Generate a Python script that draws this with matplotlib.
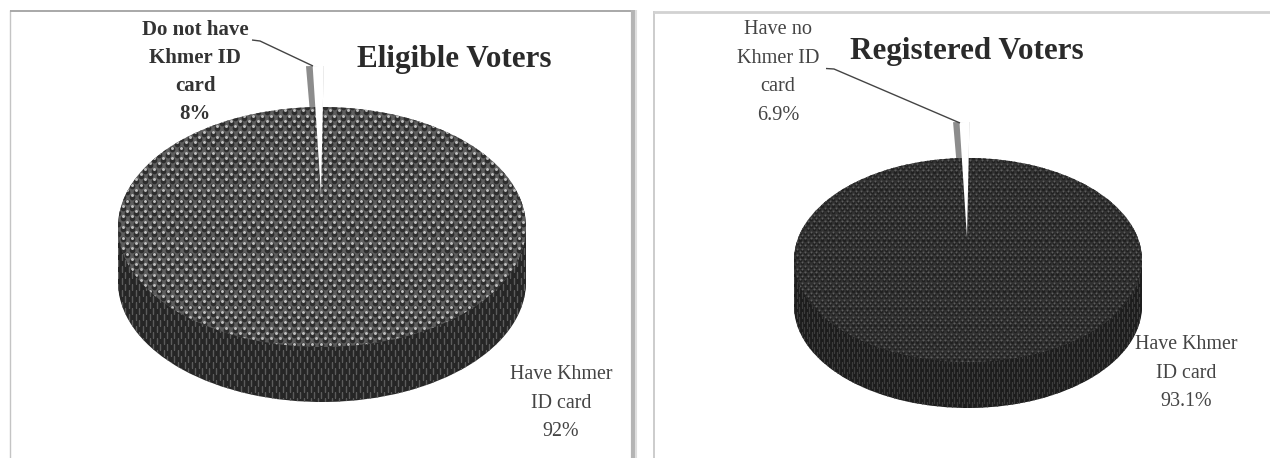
import numpy as np
import matplotlib
matplotlib.use("Agg")
import matplotlib.pyplot as plt
from matplotlib.lines import Line2D
from matplotlib.path import Path
from matplotlib.patches import PathPatch

W, H = 1270, 458

# slice shares as they are drawn in the picture (the sliver is far thinner than its label says)
eligible_shares = [0.8, 99.2]
registered_shares = [0.8, 99.2]

eligible_title = "Eligible Voters"
registered_title = "Registered Voters"
eligible_labels = ["Do not have\nKhmer ID\ncard\n8%", "Have Khmer\nID card\n92%"]
registered_labels = ["Have no\nKhmer ID\ncard\n6.9%", "Have Khmer\nID card\n93.1%"]


def grid_dots(x0, x1, y0, y1, dx, dy):
    # staggered lattice, pixels
    xs = []
    ys = []
    for i, y in enumerate(np.arange(y0, y1, dy)):
        row = np.arange(x0 + (i % 2) * dx / 2, x1, dx)
        xs.extend(row)
        ys.extend([y] * len(row))
    return np.array(xs), np.array(ys)


def draw_pie(fig, shares, cx, cy, rx, ry, depth, tip_y, top_y, face, wall, dots):
    ax = fig.add_axes([0, 0, 1, 1], facecolor="none")

    def to_x(px):
        return (px - cx) / rx

    def to_y(py):
        return (cy - py) / ry

    # side wall: the same pie stacked downwards
    for d in np.arange(depth, 0, -2.0):
        ax.pie(shares, center=(0, -d / ry), radius=1, startangle=90, colors=[wall, wall])

    theta = np.linspace(np.pi, 2 * np.pi, 200)
    wall_x = np.concatenate([np.cos(theta), np.cos(theta[::-1])])
    wall_y = np.concatenate([np.sin(theta) - depth / ry, np.sin(theta[::-1])])
    wall_path = Path(np.column_stack([wall_x, wall_y]))

    wx, wy = grid_dots(cx - rx, cx + rx, cy, cy + ry + depth, dots["wall_dx"], dots["wall_dy"])
    wall_marks = ax.scatter(to_x(wx), to_y(wy), s=dots["wall_s"], marker="|", c=dots["wall_color"],
                            linewidths=dots["wall_lw"], zorder=3)
    wall_marks.set_clip_path(PathPatch(wall_path, transform=ax.transData))

    # top face
    wedges, _ = ax.pie(shares, radius=1, startangle=90, colors=[face, face],
                       wedgeprops={"zorder": 4, "linewidth": 0})
    disk = PathPatch(Path(np.column_stack([np.cos(np.linspace(0, 2 * np.pi, 300)),
                                           np.sin(np.linspace(0, 2 * np.pi, 300))])),
                     transform=ax.transData)

    fx, fy = grid_dots(cx - rx, cx + rx, cy - ry, cy + ry, dots["dx"], dots["dy"])
    dark = ax.scatter(to_x(fx), to_y(fy), s=dots["dark_s"], c=dots["dark"], linewidths=0, zorder=5)
    dark.set_clip_path(disk)
    light = ax.scatter(to_x(fx + dots["dx"] / 2), to_y(fy + dots["dy"] * 0.66), s=dots["light_s"],
                       c=dots["light"], linewidths=0, zorder=6)
    light.set_clip_path(disk)

    # thin pulled out slice: grey inner side, paler top part, white face
    reach = (tip_y - top_y) / ry
    ax.pie(shares, center=(to_x(cx - 1), to_y(tip_y)), radius=reach, startangle=89.3,
           colors=["#b2b2b2", "none"], wedgeprops={"zorder": 2, "linewidth": 0})
    ax.pie(shares, center=(to_x(cx - 5), to_y(tip_y)), radius=reach, startangle=90,
           colors=["#8c8c8c", "none"], wedgeprops={"zorder": 2.5, "linewidth": 0})
    white, _ = ax.pie(shares, center=(to_x(cx - 1), to_y(tip_y)), radius=reach, startangle=89.3,
                      colors=["white", "none"], wedgeprops={"zorder": 7, "linewidth": 0})
    white[0].set_clip_path(disk)

    ax.set_aspect("auto")
    ax.set_xlim(to_x(0), to_x(W))
    ax.set_ylim(to_y(H), to_y(0))
    ax.set_axis_off()
    return ax


def px_line(fig, xs, ys, color, lw):
    fig.add_artist(Line2D([x / W for x in xs], [1 - y / H for y in ys], color=color, linewidth=lw,
                          solid_capstyle="butt"))


def px_text(fig, x, y, s, **kw):
    fig.text(x / W, 1 - y / H, s, ha="center", va="center", family="Liberation Serif", **kw)


def main():
    fig = plt.figure(figsize=(W / 100, H / 100), dpi=100, facecolor="white")

    # panel borders
    px_line(fig, [10, 10], [10, H], "#c4c4c4", 1.0)
    px_line(fig, [10, 634], [10.5, 10.5], "#a8a8a8", 1.4)
    px_line(fig, [633, 633], [10, H], "#b4b4b4", 3.0)
    px_line(fig, [636, 636], [10, H], "#dedede", 1.5)
    px_line(fig, [653.5, 653.5], [11, H], "#c4c4c4", 1.2)
    px_line(fig, [653, W], [11.5, 11.5], "#d2d2d2", 2.0)

    left_style = dict(dx=9.0, dy=5.3, dark="#2e2e2e", light="#c0c0c0", dark_s=17, light_s=4.5,
                      wall_dx=7.0, wall_dy=6.0, wall_s=22, wall_lw=1.0, wall_color="#5c5c5c")
    right_style = dict(dx=5.6, dy=3.4, dark="#202020", light="#5e5e5e", dark_s=6, light_s=2.2,
                       wall_dx=5.0, wall_dy=5.0, wall_s=18, wall_lw=0.9, wall_color="#3c3c3c")

    draw_pie(fig, eligible_shares, 322, 227, 204, 120, 55, 195, 66, "#5e5e5e", "#262626", left_style)
    draw_pie(fig, registered_shares, 968, 260, 174, 102, 46, 238, 122, "#323232", "#1c1c1c", right_style)

    # leader lines
    px_line(fig, [252, 260, 313], [40, 41, 66], "#444444", 1.0)
    px_line(fig, [826, 834, 960], [68.5, 69, 123], "#444444", 1.0)

    px_text(fig, 454.5, 60, eligible_title, fontsize=22.4, fontweight="bold", color="#2a2a2a")
    px_text(fig, 966.5, 51, registered_title, fontsize=22.4, fontweight="bold", color="#2a2a2a")

    px_text(fig, 195, 72, eligible_labels[0], fontsize=15, fontweight="bold", color="#333333", linespacing=1.55)
    px_text(fig, 561, 403, eligible_labels[1], fontsize=14.4, color="#444444", linespacing=1.68)
    px_text(fig, 778, 72.5, registered_labels[0], fontsize=14.6, color="#444444", linespacing=1.68)
    px_text(fig, 1186, 373, registered_labels[1], fontsize=14.4, color="#444444", linespacing=1.68)

    fig.savefig("out.png", dpi=100)


if __name__ == "__main__":
    main()
